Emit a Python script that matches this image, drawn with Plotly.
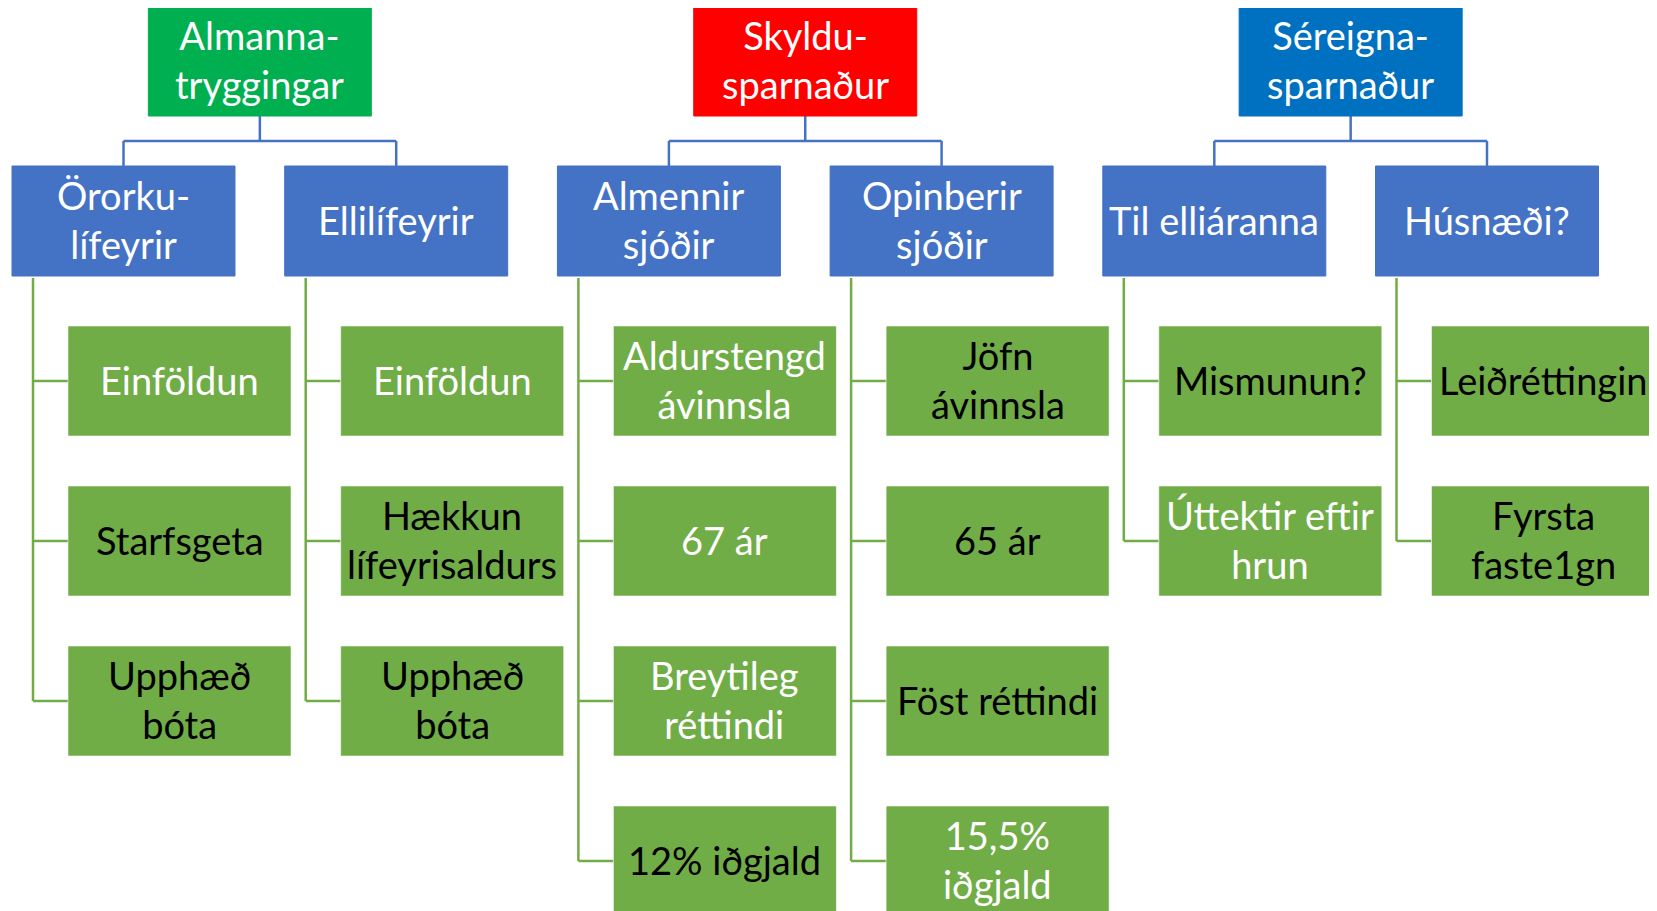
import plotly.graph_objects as go

# ---- content ----
groups = ["Almanna-<br>tryggingar", "Skyldu-<br>sparnaður", "Séreigna-<br>sparnaður"]
group_colors = ["#00B050", "#FF0000", "#0070C0"]

branches = ["Örorku-<br>lífeyrir", "Ellilífeyrir", "Almennir<br>sjóðir",
            "Opinberir<br>sjóðir", "Til elliáranna", "Húsnæði?"]
branch_group = [0, 0, 1, 1, 2, 2]

leaves = [
    ["Einföldun", "Starfsgeta", "Upphæð<br>bóta"],
    ["Einföldun", "Hækkun<br>lífeyrisaldurs", "Upphæð<br>bóta"],
    ["Aldurstengd<br>ávinnsla", "67 ár", "Breytileg<br>réttindi", "12% iðgjald"],
    ["Jöfn<br>ávinnsla", "65 ár", "Föst réttindi", "15,5%<br>iðgjald"],
    ["Mismunun?", "Úttektir eftir<br>hrun"],
    ["Leiðréttingin", "Fyrsta<br>faste1gn"],
]
leaf_text_colors = [
    ["white", "black", "black"],
    ["white", "black", "black"],
    ["white", "white", "white", "black"],
    ["black", "black", "black", "white"],
    ["black", "white"],
    ["black", "black"],
]

# ---- layout geometry (pixels) ----
W, H = 1657, 911
PAGE_OFF = 8  # default body margin of the html page
BOX_W, BOX_H = 223, 110
COL_X0, COL_PITCH = 12, 272.7
TOP_Y, BRANCH_Y = 6, 166
LEAF_Y0, LEAF_PITCH = 326, 160
LEAF_OFF = 56
VLINE_OFF = 21
BRANCH_COLOR = "#4472C4"
LEAF_COLOR = "#70AD47"
FONT = "Lato"
FS = 38

shapes = []
annotations = []


def box(x0, y0, color, text, tcolor="white", border="rgba(255,255,255,0.55)"):
    shapes.append(dict(type="rect", x0=x0, x1=x0 + BOX_W, y0=y0, y1=y0 + BOX_H,
                       fillcolor=color, line=dict(color=border, width=1), layer="above"))
    annotations.append(dict(x=x0 + BOX_W / 2, y=y0 + BOX_H / 2 - 1.5, text=text, showarrow=False,
                            xanchor="center", yanchor="middle",
                            font=dict(family=FONT, size=FS, color=tcolor)))


def line(x0, y0, x1, y1, color, width=2.5):
    shapes.append(dict(type="line", x0=x0, y0=y0, x1=x1, y1=y1,
                       line=dict(color=color, width=width), layer="below"))


branch_left = [COL_X0 + i * COL_PITCH for i in range(len(branches))]
branch_center = [x + BOX_W / 2 for x in branch_left]

# top-level boxes and connectors
for g, (gtext, gcol) in enumerate(zip(groups, group_colors)):
    kids = [i for i, bg in enumerate(branch_group) if bg == g]
    cx = sum(branch_center[i] for i in kids) / len(kids)
    box(cx - BOX_W / 2, TOP_Y, gcol, gtext, border=gcol)
    ymid = (TOP_Y + BOX_H + BRANCH_Y) / 2
    line(cx, TOP_Y + BOX_H, cx, ymid, BRANCH_COLOR)
    line(min(branch_center[i] for i in kids), ymid, max(branch_center[i] for i in kids), ymid, BRANCH_COLOR)
    for i in kids:
        line(branch_center[i], ymid, branch_center[i], BRANCH_Y, BRANCH_COLOR)

# branch boxes, leaves and connectors
for i, btext in enumerate(branches):
    bx = branch_left[i]
    box(bx, BRANCH_Y, BRANCH_COLOR, btext, border=BRANCH_COLOR)
    vx = bx + VLINE_OFF
    last_mid = None
    for j, (ltext, tcol) in enumerate(zip(leaves[i], leaf_text_colors[i])):
        ly = LEAF_Y0 + j * LEAF_PITCH
        lx = bx + LEAF_OFF
        box(lx, ly, LEAF_COLOR, ltext, tcolor=tcol)
        mid = ly + BOX_H / 2
        line(vx, mid, lx, mid, LEAF_COLOR)
        last_mid = mid
    line(vx, BRANCH_Y + BOX_H + 2, vx, last_mid, LEAF_COLOR)

fig = go.Figure()
fig.update_layout(
    width=W - PAGE_OFF, height=H - PAGE_OFF,
    margin=dict(l=0, r=0, t=0, b=0),
    paper_bgcolor="white", plot_bgcolor="white",
    xaxis=dict(range=[PAGE_OFF, W], visible=False, fixedrange=True),
    yaxis=dict(range=[H, PAGE_OFF], visible=False, fixedrange=True),
    shapes=shapes, annotations=annotations,
    showlegend=False,
)
fig.write_html("out.html")
